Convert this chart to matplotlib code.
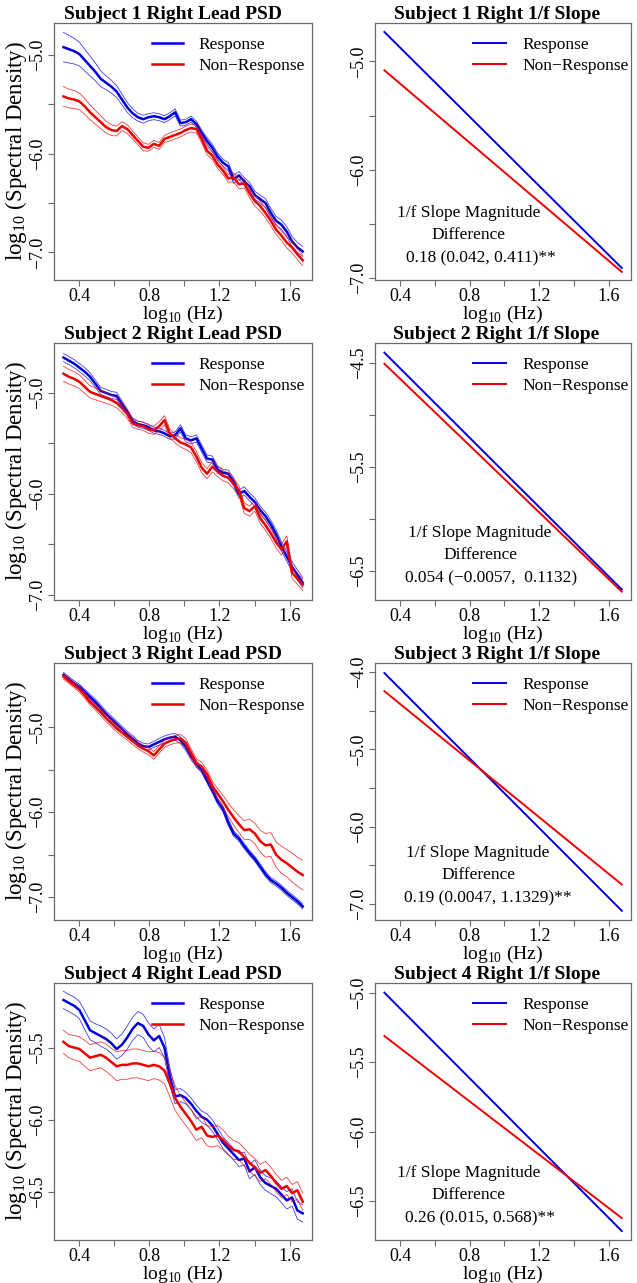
import numpy as np
import matplotlib
matplotlib.use('Agg')
import matplotlib.pyplot as plt

plt.rcParams['font.family'] = ['Liberation Serif', 'DejaVu Serif']
plt.rcParams['mathtext.fontset'] = 'custom'
plt.rcParams['mathtext.rm'] = 'Liberation Serif'
plt.rcParams['axes.unicode_minus'] = True

BLUE = '#0000E0'
RED = '#EE0000'
BOX = '#6a6a6a'

# x grid of the spectra, log10(Hz)
log_hz = np.linspace(0.31, 1.675, 46)

# ---- Subject 1 ----
s1_resp = [-4.92, -4.94, -4.96, -4.99, -5.05, -5.11, -5.17, -5.24, -5.28, -5.32,
           -5.37, -5.45, -5.53, -5.59, -5.63, -5.65, -5.63, -5.62, -5.63, -5.65,
           -5.62, -5.58, -5.69, -5.68, -5.65, -5.70, -5.79, -5.87, -5.94, -6.03,
           -6.09, -6.13, -6.26, -6.22, -6.28, -6.33, -6.42, -6.46, -6.50, -6.60,
           -6.68, -6.72, -6.79, -6.89, -6.95, -6.99]
s1_resp_ci = [0.15, 0.14, 0.13, 0.12, 0.11, 0.10, 0.09, 0.08, 0.07, 0.065,
              0.06, 0.055, 0.05, 0.045, 0.04, 0.04, 0.035, 0.035, 0.035, 0.035,
              0.035, 0.035, 0.03, 0.03, 0.03, 0.03, 0.03, 0.035, 0.035, 0.035,
              0.035, 0.04, 0.04, 0.04, 0.04, 0.04, 0.04, 0.04, 0.045, 0.045,
              0.045, 0.045, 0.05, 0.05, 0.05, 0.05]
s1_non = [-5.42, -5.44, -5.45, -5.47, -5.52, -5.58, -5.63, -5.68, -5.73, -5.76,
          -5.77, -5.72, -5.75, -5.81, -5.87, -5.93, -5.94, -5.90, -5.92, -5.85,
          -5.83, -5.81, -5.79, -5.76, -5.74, -5.75, -5.85, -5.97, -6.02, -6.11,
          -6.17, -6.25, -6.24, -6.31, -6.30, -6.40, -6.48, -6.53, -6.60, -6.68,
          -6.77, -6.83, -6.90, -6.95, -7.02, -7.08]
s1_non_ci = [0.10, 0.095, 0.09, 0.085, 0.08, 0.075, 0.07, 0.065, 0.06, 0.055,
             0.05, 0.045, 0.045, 0.04, 0.04, 0.04, 0.035, 0.035, 0.035, 0.035,
             0.04, 0.04, 0.04, 0.04, 0.04, 0.04, 0.04, 0.04, 0.04, 0.04,
             0.04, 0.04, 0.045, 0.045, 0.045, 0.045, 0.05, 0.05, 0.05, 0.05,
             0.05, 0.05, 0.055, 0.055, 0.055, 0.055]

# ---- Subject 2 ----
s2_resp = [-4.65, -4.68, -4.71, -4.75, -4.79, -4.84, -4.91, -4.98, -5.00, -5.02,
           -5.03, -5.11, -5.19, -5.28, -5.31, -5.32, -5.34, -5.37, -5.38, -5.40,
           -5.43, -5.42, -5.35, -5.45, -5.47, -5.45, -5.55, -5.65, -5.66, -5.76,
           -5.79, -5.80, -5.88, -6.00, -5.97, -6.03, -6.08, -6.16, -6.22, -6.30,
           -6.40, -6.52, -6.62, -6.72, -6.80, -6.88]
s2_resp_ci = [0.04, 0.04, 0.04, 0.04, 0.04, 0.04, 0.035, 0.035, 0.035, 0.035,
              0.035, 0.03, 0.03, 0.03, 0.03, 0.03, 0.03, 0.03, 0.03, 0.03,
              0.03, 0.035, 0.035, 0.035, 0.035, 0.035, 0.035, 0.035, 0.035, 0.035,
              0.035, 0.035, 0.04, 0.04, 0.04, 0.04, 0.04, 0.04, 0.04, 0.04,
              0.045, 0.045, 0.045, 0.05, 0.05, 0.05]
s2_non = [-4.81, -4.84, -4.86, -4.89, -4.94, -4.99, -5.01, -5.03, -5.05, -5.07,
          -5.10, -5.15, -5.21, -5.30, -5.32, -5.33, -5.36, -5.37, -5.33, -5.27,
          -5.40, -5.45, -5.49, -5.51, -5.54, -5.63, -5.74, -5.80, -5.73, -5.78,
          -5.82, -5.84, -5.90, -5.97, -6.14, -6.17, -6.12, -6.24, -6.31, -6.39,
          -6.48, -6.55, -6.47, -6.78, -6.84, -6.90]
s2_non_ci = [0.075, 0.072, 0.07, 0.068, 0.065, 0.06, 0.058, 0.055, 0.052, 0.05,
             0.048, 0.045, 0.042, 0.04, 0.04, 0.04, 0.04, 0.04, 0.045, 0.045,
             0.045, 0.045, 0.045, 0.05, 0.05, 0.05, 0.05, 0.05, 0.05, 0.05,
             0.05, 0.05, 0.05, 0.05, 0.05, 0.05, 0.05, 0.05, 0.05, 0.05,
             0.055, 0.055, 0.055, 0.055, 0.055, 0.055]

# ---- Subject 3 ----
s3_resp = [-4.38, -4.43, -4.48, -4.52, -4.58, -4.64, -4.70, -4.77, -4.84, -4.90,
           -4.96, -5.02, -5.08, -5.13, -5.19, -5.22, -5.23, -5.20, -5.17, -5.14,
           -5.12, -5.11, -5.15, -5.23, -5.34, -5.43, -5.50, -5.62, -5.74, -5.87,
           -5.96, -6.12, -6.25, -6.31, -6.40, -6.48, -6.55, -6.64, -6.73, -6.80,
           -6.84, -6.89, -6.95, -7.00, -7.05, -7.11]
s3_resp_ci = [0.03, 0.03, 0.03, 0.03, 0.03, 0.03, 0.035, 0.035, 0.035, 0.035,
              0.035, 0.035, 0.035, 0.035, 0.035, 0.035, 0.035, 0.035, 0.04, 0.04,
              0.04, 0.04, 0.04, 0.04, 0.04, 0.035, 0.035, 0.035, 0.035, 0.035,
              0.035, 0.035, 0.03, 0.03, 0.03, 0.03, 0.03, 0.03, 0.03, 0.03,
              0.03, 0.03, 0.03, 0.03, 0.03, 0.03]
s3_non = [-4.40, -4.45, -4.50, -4.55, -4.62, -4.70, -4.76, -4.82, -4.89, -4.95,
          -5.01, -5.06, -5.11, -5.16, -5.21, -5.25, -5.28, -5.33, -5.26, -5.19,
          -5.16, -5.14, -5.13, -5.18, -5.30, -5.42, -5.46, -5.55, -5.69, -5.78,
          -5.87, -5.97, -6.06, -6.14, -6.21, -6.20, -6.25, -6.34, -6.39, -6.38,
          -6.50, -6.56, -6.60, -6.65, -6.70, -6.74]
s3_non_ci = [0.03, 0.03, 0.03, 0.035, 0.035, 0.035, 0.035, 0.04, 0.04, 0.04,
             0.04, 0.04, 0.04, 0.04, 0.04, 0.04, 0.04, 0.045, 0.045, 0.045,
             0.045, 0.045, 0.05, 0.05, 0.05, 0.05, 0.05, 0.05, 0.055, 0.06,
             0.07, 0.08, 0.09, 0.10, 0.11, 0.12, 0.12, 0.13, 0.14, 0.14,
             0.15, 0.16, 0.16, 0.17, 0.17, 0.175]

# ---- Subject 4 ----
s4_resp = [-5.17, -5.19, -5.21, -5.24, -5.31, -5.38, -5.40, -5.42, -5.44, -5.47,
           -5.51, -5.48, -5.43, -5.37, -5.33, -5.35, -5.41, -5.45, -5.42, -5.50,
           -5.70, -5.84, -5.83, -5.85, -5.89, -5.94, -5.98, -6.00, -6.04, -6.10,
           -6.16, -6.20, -6.24, -6.28, -6.27, -6.36, -6.33, -6.40, -6.44, -6.46,
           -6.48, -6.52, -6.56, -6.54, -6.63, -6.65]
s4_resp_ci = [0.06, 0.06, 0.06, 0.06, 0.065, 0.065, 0.065, 0.07, 0.07, 0.07,
              0.07, 0.075, 0.08, 0.08, 0.08, 0.08, 0.08, 0.08, 0.08, 0.07,
              0.06, 0.05, 0.045, 0.04, 0.04, 0.04, 0.04, 0.04, 0.04, 0.04,
              0.04, 0.04, 0.04, 0.045, 0.045, 0.05, 0.05, 0.05, 0.05, 0.055,
              0.055, 0.055, 0.06, 0.06, 0.06, 0.06]
s4_non = [-5.46, -5.49, -5.50, -5.51, -5.54, -5.57, -5.56, -5.55, -5.57, -5.60,
          -5.63, -5.62, -5.62, -5.61, -5.61, -5.62, -5.63, -5.62, -5.63, -5.66,
          -5.75, -5.85, -5.91, -5.96, -6.01, -6.07, -6.05, -6.11, -6.12, -6.11,
          -6.14, -6.18, -6.21, -6.22, -6.26, -6.30, -6.33, -6.37, -6.35, -6.39,
          -6.44, -6.48, -6.46, -6.51, -6.49, -6.57]
s4_non_ci = [0.08, 0.08, 0.085, 0.085, 0.09, 0.09, 0.09, 0.09, 0.095, 0.095,
             0.10, 0.10, 0.10, 0.10, 0.10, 0.10, 0.10, 0.095, 0.095, 0.09,
             0.09, 0.085, 0.08, 0.08, 0.08, 0.075, 0.075, 0.07, 0.07, 0.07,
             0.07, 0.065, 0.065, 0.06, 0.06, 0.06, 0.06, 0.06, 0.06, 0.06,
             0.06, 0.06, 0.06, 0.06, 0.06, 0.06]

psd_resp = [s1_resp, s2_resp, s3_resp, s4_resp]
psd_resp_ci = [s1_resp_ci, s2_resp_ci, s3_resp_ci, s4_resp_ci]
psd_non = [s1_non, s2_non, s3_non, s4_non]
psd_non_ci = [s1_non_ci, s2_non_ci, s3_non_ci, s4_non_ci]

# fitted 1/f lines: intercept + slope * log10(Hz)
fit_resp_int = [-4.234, -3.887, -3.311, -4.610]
fit_resp_slope = [-1.596, -1.667, -2.256, -1.257]
fit_non_int = [-4.660, -4.013, -3.676, -5.014]
fit_non_slope = [-1.363, -1.604, -1.835, -0.960]
fit_range = [0.31, 1.675]

diff_text = ['0.18 (0.042, 0.411)**',
             '0.054 (\u22120.0057,  0.1132)',
             '0.19 (0.0047, 1.1329)**',
             '0.26 (0.015, 0.568)**']

psd_ylim = [(-7.28, -4.675), (-7.05, -4.506), (-7.27, -4.24), (-6.835, -5.052)]
psd_yticks = [[-7.0, -6.5, -6.0, -5.5, -5.0], [-7.0, -6.5, -6.0, -5.5, -5.0],
              [-7.0, -6.5, -6.0, -5.5, -5.0], [-6.5, -6.0, -5.5]]
psd_ylabels = [[-7.0, -6.0, -5.0], [-7.0, -6.0, -5.0], [-7.0, -6.0, -5.0],
               [-6.5, -6.0, -5.5]]
fit_ylim = [(-7.018, -4.646), (-6.78, -4.311), (-7.21, -3.88), (-6.78, -4.93)]
fit_yticks = [[-7.0, -6.5, -6.0, -5.5, -5.0], [-6.5, -6.0, -5.5, -5.0, -4.5],
              [-7.0, -6.5, -6.0, -5.5, -5.0, -4.5, -4.0], [-6.5, -6.0, -5.5, -5.0]]
fit_ylabels = [[-7.0, -6.0, -5.0], [-6.5, -5.5, -4.5],
               [-7.0, -6.0, -5.0, -4.0], [-6.5, -6.0, -5.5, -5.0]]
text_pos = [(0.366, 0.412), (0.41, 0.455), (0.403, 0.44), (0.366, 0.412)]

xticks = [0.4, 0.6, 0.8, 1.0, 1.2, 1.4, 1.6]
xlabels = ['0.4', '', '0.8', '', '1.2', '', '1.6']
XLIM = (0.256, 1.728)

W, H = 637, 1283
fig = plt.figure(figsize=(W / 100, H / 100), dpi=100)

FS = 13


def fmt(v):
    return ('%.1f' % v).replace('-', '\u2212')


def style_axes(ax, ylim, yticks, ylabs):
    ax.set_xlim(*XLIM)
    ax.set_ylim(*ylim)
    ax.set_xticks(xticks)
    ax.set_xticklabels(xlabels, fontsize=FS)
    ax.set_yticks(yticks)
    ax.set_yticklabels([fmt(v) if v in ylabs else '' for v in yticks],
                       fontsize=FS, rotation=90, va='center')
    for sp in ax.spines.values():
        sp.set_color(BOX)
        sp.set_linewidth(0.9)
    ax.tick_params(direction='out', length=4, width=0.8, color=BOX, pad=2)
    ax.set_xlabel(r'$\mathrm{log}_{10}$ (Hz)', fontsize=14, labelpad=-1)


for r in range(4):
    top = 23 + 320 * r
    bottom = H - (top + 257)

    # PSD panel
    ax = fig.add_axes([54 / W, bottom / H, 258 / W, 257 / H])
    for mean, ci, col, lab in [(psd_resp[r], psd_resp_ci[r], BLUE, 'Response'),
                               (psd_non[r], psd_non_ci[r], RED, 'Non\u2212Response')]:
        m = np.array(mean)
        c = np.array(ci)
        ax.plot(log_hz, m + c, color=col, lw=0.6, alpha=0.75)
        ax.plot(log_hz, m - c, color=col, lw=0.6, alpha=0.75)
        ax.plot(log_hz, m, color=col, lw=1.8, label=lab)
    style_axes(ax, psd_ylim[r], psd_yticks[r], psd_ylabels[r])
    ax.set_ylabel(r'$\mathrm{log}_{10}$ (Spectral Density)', fontsize=16.5,
                  labelpad=0)
    ax.set_title('Subject %d Right Lead PSD' % (r + 1), fontsize=14,
                 fontweight='bold', pad=3, x=0.46)
    ax.legend(loc='upper left', bbox_to_anchor=(0.325, 1.0), frameon=False,
              fontsize=12.5, handlelength=1.8, handletextpad=0.9,
              labelspacing=0.3, borderpad=0.3)

    # 1/f slope panel
    ax = fig.add_axes([375 / W, bottom / H, 256 / W, 257 / H])
    xf = np.array(fit_range)
    ax.plot(xf, fit_resp_int[r] + fit_resp_slope[r] * xf, color=BLUE, lw=1.4,
            label='Response')
    ax.plot(xf, fit_non_int[r] + fit_non_slope[r] * xf, color=RED, lw=1.4,
            label='Non\u2212Response')
    style_axes(ax, fit_ylim[r], fit_yticks[r], fit_ylabels[r])
    ax.set_title('Subject %d Right 1/f Slope' % (r + 1), fontsize=14,
                 fontweight='bold', pad=3, x=0.475)
    ax.legend(loc='upper left', bbox_to_anchor=(0.33, 1.0), frameon=False,
              fontsize=12.5, handlelength=1.9, handletextpad=0.9,
              labelspacing=0.3, borderpad=0.3)
    hx, vx = text_pos[r]
    ax.text(hx, 0.262, '1/f Slope Magnitude', transform=ax.transAxes,
            ha='center', va='center', fontsize=12.5)
    ax.text(hx, 0.177, 'Difference', transform=ax.transAxes,
            ha='center', va='center', fontsize=12.5)
    ax.text(vx, 0.085, diff_text[r], transform=ax.transAxes,
            ha='center', va='center', fontsize=12.5)

fig.savefig('out.png', dpi=100, facecolor='white')
